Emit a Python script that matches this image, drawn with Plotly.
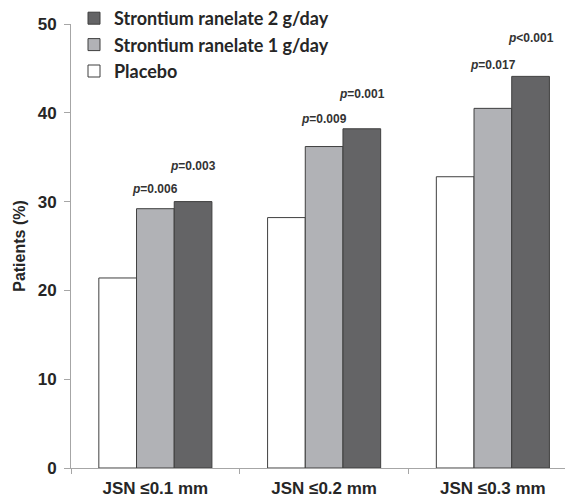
import plotly.graph_objects as go

categories = ["JSN ≤0.1 mm", "JSN ≤0.2 mm", "JSN ≤0.3 mm"]
placebo = [21.4, 28.2, 32.8]
sr_1g = [29.2, 36.2, 40.5]
sr_2g = [30.0, 38.2, 44.1]
p_1g = ["=0.006", "=0.009", "=0.017"]
p_2g = ["=0.003", "=0.001", "&lt;0.001"]
# label heights (in % units)
p_1g_y = [31.4, 39.3, 45.4]
p_2g_y = [34.0, 42.1, 48.4]

W, H = 565, 491
ML, MR, MT, MB = 63, 0, 16, 31
plot_w = W - ML - MR
plot_h = H - MT - MB
cat_px = 168.75
bargap = 0.33
bar_px = cat_px * (1 - bargap) / 3

outline = "#3f3f3f"
fig = go.Figure()
fig.add_trace(go.Bar(name="Placebo", x=categories, y=placebo,
                     marker=dict(color="#ffffff", line=dict(color=outline, width=1))))
fig.add_trace(go.Bar(name="Strontium ranelate 1 g/day", x=categories, y=sr_1g,
                     marker=dict(color="#b1b2b6", line=dict(color=outline, width=1))))
fig.add_trace(go.Bar(name="Strontium ranelate 2 g/day", x=categories, y=sr_2g,
                     marker=dict(color="#646466", line=dict(color=outline, width=1))))

annos = []
afont = dict(family="Liberation Sans, Arial, sans-serif", size=12, color="#333333")
for i, c in enumerate(categories):
    annos.append(dict(x=c, y=p_1g_y[i], xref="x", yref="y", showarrow=False,
                      text="<b><i>p</i>" + p_1g[i] + "</b>", font=afont, xshift=0))
    annos.append(dict(x=c, y=p_2g_y[i], xref="x", yref="y", showarrow=False,
                      text="<b><i>p</i>" + p_2g[i] + "</b>", font=afont, xshift=bar_px))

axis_grey = "#a6a6a6"
tfont = dict(family="Liberation Sans, Arial, sans-serif", size=17, color="#262626", weight="bold")
fig.update_layout(
    width=W, height=H,
    margin=dict(l=ML, r=MR, t=MT, b=MB, pad=0, autoexpand=False),
    paper_bgcolor="white", plot_bgcolor="white",
    barmode="group", bargap=bargap, bargroupgap=0,
    showlegend=True,
    legend=dict(x=(66 - ML) / plot_w, xanchor="left", y=1 + 24 / plot_h, yanchor="top",
                traceorder="reversed", bgcolor="rgba(0,0,0,0)",
                font=dict(family="Lato, sans-serif", size=18, color="#262626", weight="bold")),
    annotations=annos,
    xaxis=dict(type="category", range=[-0.5, -0.5 + plot_w / cat_px],
               showline=True, linecolor=axis_grey, linewidth=1,
               ticks="outside", tickson="boundaries", ticklen=5, tickcolor=axis_grey,
               tickfont=tfont, ticklabelstandoff=5, showgrid=False, zeroline=False),
    yaxis=dict(range=[0, 50], dtick=10, showline=True, linecolor=axis_grey, linewidth=1,
               ticks="outside", ticklen=6, tickcolor=axis_grey, tickfont=tfont,
               ticklabelstandoff=4,
               showgrid=False, zeroline=False,
               title=dict(text="Patients (%)", font=dict(family="Liberation Sans, Arial, sans-serif",
                                                          size=16, color="#262626", weight="bold"),
                          standoff=8)),
)
fig.write_html("out.html")
